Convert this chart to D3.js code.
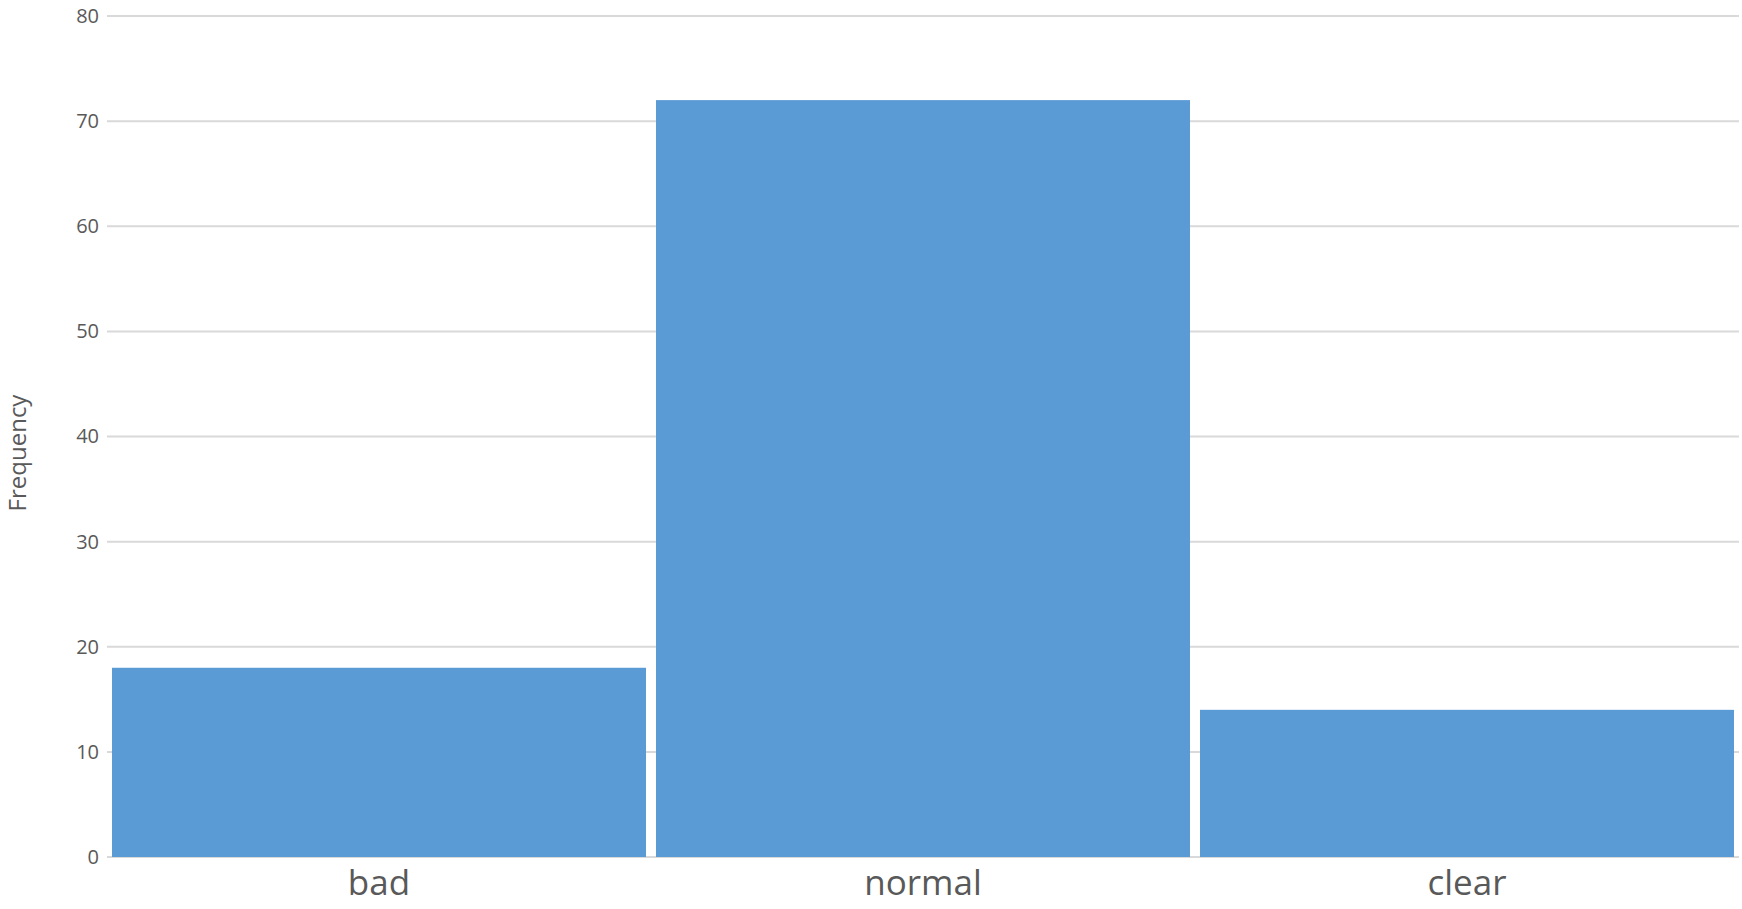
<!DOCTYPE html>
<html>
<head>
<meta charset="utf-8">
<script src="https://cdn.jsdelivr.net/npm/d3@7"></script>
<style>
  body { margin: 0; background: #fff; }
  text { font-family: "Open Sans", sans-serif; fill: #595959; }
</style>
</head>
<body>
<div id="chart"></div>
<script>
// data
const categories = ["bad", "normal", "clear"]
const frequency = [18, 72, 14]
const yTicks = [0, 10, 20, 30, 40, 50, 60, 70, 80]

const W = 1742, H = 909
const margin = { top: 16, right: 3, bottom: 52, left: 107 }
const width = W - margin.left - margin.right
const height = H - margin.top - margin.bottom

const svg = d3.select("#chart").append("svg")
    .attr("width", W)
    .attr("height", H)
const g = svg.append("g")
    .attr("transform", "translate(" + margin.left + "," + margin.top + ")")

const x = d3.scaleBand()
    .domain(categories)
    .range([0, width])
    .paddingInner(0.0184)
    .paddingOuter(0.0092)

const y = d3.scaleLinear()
    .domain([0, 80])
    .range([height, 0])

// gridlines
g.append("g")
    .selectAll("line")
    .data(yTicks)
    .join("line")
    .attr("x1", 0)
    .attr("x2", width)
    .attr("y1", d => y(d))
    .attr("y2", d => y(d))
    .attr("stroke", "#d9d9d9")
    .attr("stroke-width", 2)

// bars
g.append("g")
    .selectAll("rect")
    .data(frequency)
    .join("rect")
    .attr("x", (d, i) => x(categories[i]))
    .attr("width", x.bandwidth())
    .attr("y", d => y(d))
    .attr("height", d => height - y(d))
    .attr("fill", "#5b9bd5")

// y axis
const yAxis = d3.axisLeft(y).tickValues(yTicks).tickSize(0).tickPadding(8)
g.append("g").call(yAxis)
    .call(s => s.select(".domain").remove())
    .selectAll("text")
    .style("font-size", "20px")
    .attr("fill", "#595959")

// x axis
const xAxis = d3.axisBottom(x).tickSize(0).tickPadding(13)
g.append("g")
    .attr("transform", "translate(0," + height + ")")
    .call(xAxis)
    .call(s => s.select(".domain").remove())
    .selectAll("text")
    .style("font-size", "35px")
    .attr("fill", "#595959")

// y label
svg.append("text")
    .attr("transform", "translate(26,453) rotate(-90)")
    .attr("text-anchor", "middle")
    .style("font-size", "24px")
    .text("Frequency")
</script>
</body>
</html>
